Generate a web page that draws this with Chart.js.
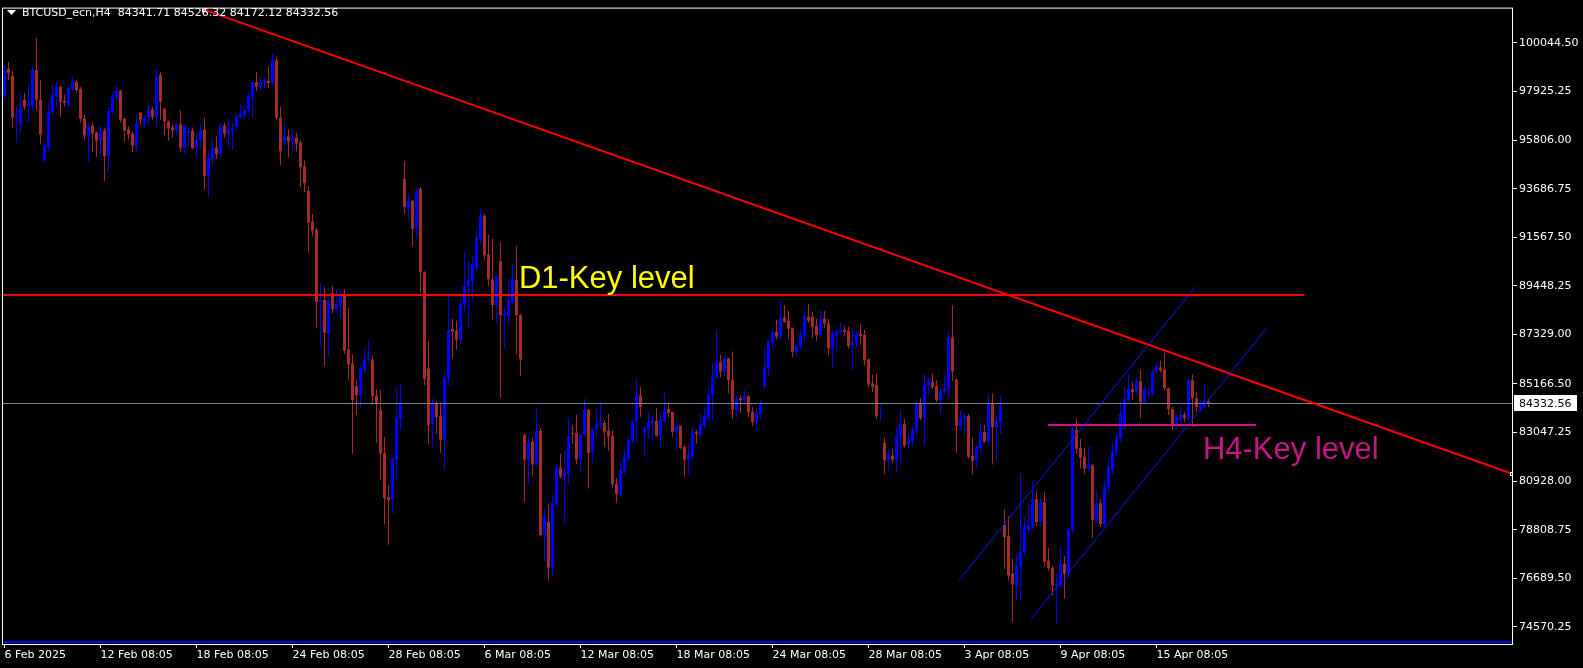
<!DOCTYPE html>
<html>
<head>
<meta charset="utf-8">
<script src="https://cdn.jsdelivr.net/npm/chart.js@4.4.1/dist/chart.umd.min.js"></script>
<style>
  html, body { margin: 0; padding: 0; background: #000; }
  #wrap { width: 1583px; height: 668px; }
</style>
</head>
<body>
<div id="wrap"><canvas id="chart" width="1583" height="668"></canvas></div>
<script>
const symbol = 'BTCUSD_ecn,H4';

// H4 candles, 6 Feb 2025 -> 17 Apr 2025
const opens = [
  97739,98907,98604,96788,96528,97566,97307,97264,98864,97566,94928,95490,97047,97696,98129,97523,97350,98042,98345,98042,
  96745,96009,96442,96139,95793,96226,95101,97047,97653,97956,96745,96269,96096,95577,97004,96528,96788,97134,96831,98648,
  97177,96615,96355,96226,96485,95490,96139,96226,95490,95793,96269,94236,94971,95490,95188,96442,96096,96226,96399,96788,
  96874,97134,97696,98345,98129,98302,98388,98302,99296,96788,95750,95966,95750,95923,95707,94669,93587,92247,91901,88743,
  88830,87359,89133,88441,88614,89046,86667,86062,85067,84678,85802,86235,86235,84678,84029,82169,80223,80137,81867,83640,
  94106,92852,93155,91944,93674,90041,85846,83424,84289,83770,82732,85413,87576,87489,87100,88614,89435,89652,90214,91511,
  92506,90819,89738,88614,90517,88138,88138,88743,89695,88181,82948,81867,82645,81650,83121,78580,79142,77152,79920,81521,
  81131,81261,83034,83034,81867,82948,84029,82169,83207,83380,83467,83121,82905,80829,80353,81391,81953,82688,83553,84678,
  83034,83207,83467,83553,82905,83553,84072,83943,83078,83337,82429,81867,81996,83078,82948,83380,83726,84678,85456,86105,
  85716,86278,85327,84029,84548,84462,84635,83943,83510,83856,85067,85846,87013,87446,87230,88051,87922,87619,86581,86797,
  87273,88095,88095,87705,87316,88008,87835,86711,87273,87446,87532,87489,86840,86970,87359,87316,86235,85196,85110,83770,
  82602,81823,82040,81867,82861,83424,82559,82688,83121,84289,83683,85110,85240,85067,84462,84851,84937,87186,85370,83337,
  83640,83770,82040,81823,82342,83078,82645,84289,83294,83510,79012,78536,76893,76374,77196,77844,78796,78969,80137,79142,
  80007,77455,77152,76374,76374,77325,76893,78796,83164,82386,81996,81477,81607,79228,79964,79055,80656,81434,82213,82818,
  83294,84462,84937,84851,85283,84375,84764,84764,85716,85889,85802,84981,84072,83337,83640,83813,83683,85327,84548,84116,
  84159,84341.71
];
const highs = [
  99080,99210,98821,97350,97869,97869,98215,98994,100248,98431,95707,97437,98215,98345,98215,97783,98129,98561,98431,98129,
  96918,96572,96572,96182,96399,96355,97264,97912,98215,97999,96788,96399,96182,96918,97047,96918,97350,97264,98907,98777,
  97220,96658,96485,96572,97091,96442,96355,96355,96009,96528,96788,95317,95836,95966,96528,96572,96745,96528,96961,97393,
  97350,97869,98345,98777,98561,98518,98994,99599,99426,97264,96572,96269,96226,96139,95836,94928,93804,92593,91987,89565,
  89392,89003,89435,89349,89262,89306,88484,86451,85370,85975,86711,87057,86408,84937,84894,82861,80742,81953,84981,85154,
  94885,93458,93198,93717,93760,90084,87057,84505,84418,84375,85673,89003,88008,87922,88873,90949,90517,90690,91944,92852,
  92593,91684,91511,89954,91338,88484,89738,90387,91165,88224,82991,82861,82818,84116,83251,79747,79964,80310,81650,82126,
  82256,83683,83380,83813,82948,84505,84072,83251,84072,84375,83597,83856,83164,81045,81694,82299,82775,83597,85370,85024,
  83294,83943,83770,84116,83943,84808,84332,83943,83510,83380,82515,82515,83294,83164,83856,84159,84981,86062,87532,86451,
  86408,86321,86581,84635,84678,84894,84678,84159,84072,84462,86711,87057,87532,87965,88830,88614,88354,87619,86970,87576,
  88354,88657,88311,88008,88397,88354,88008,87489,87532,87835,87662,87662,87619,87489,87792,87532,86278,85586,85629,84202,
  82818,82342,82342,83251,83986,83640,82948,83337,84375,84548,85586,85413,85629,85327,84937,85500,87446,88614,85370,84029,
  83856,83856,82818,82472,83467,83380,84721,84764,83770,84678,79704,79401,77542,77758,81261,79401,79920,80915,80483,80137,
  80439,78017,77239,76893,78017,77671,78882,83294,83640,82775,82386,82429,81694,80483,80137,80915,81953,82645,82991,84375,
  85024,85586,85240,85413,85802,85110,85024,85759,86105,86192,86538,85024,84159,83856,84159,83943,85370,85586,84808,84462,
  85110,84526.32
];
const lows = [
  97566,98431,96355,95707,96139,97134,96572,97134,97134,95620,94842,95317,96918,97220,96831,97264,97264,97956,97869,96572,
  95836,94842,95274,95058,95058,94020,94452,96918,97566,96572,95750,95836,95274,95274,96485,96355,96485,96701,96399,96701,
  96009,95793,95923,95966,95274,95188,95534,95404,95058,95534,93674,93328,94755,94971,95101,95923,95490,95361,96269,96745,
  96701,97004,96788,97956,97999,98085,98085,98215,96658,94712,95534,95058,95361,95317,93760,93544,90906,91598,87619,86840,
  85932,86408,88268,88268,88051,86494,85327,82126,83813,84116,85673,86105,84245,82602,81002,79055,78147,79531,81002,83164,
  92593,92376,91165,91511,89133,85110,82559,82429,82991,82169,81434,85110,86278,86667,86970,88354,87576,88830,90084,91295,
  90560,89435,87965,87835,84591,86754,87792,88614,86451,85500,80007,80785,81131,81564,78536,77412,76590,76806,79834,81045,
  79055,80785,82559,81650,81304,82861,80612,81737,82861,83207,82429,82256,80656,79964,80266,81218,81780,82602,82645,83726,
  81996,82775,82688,82861,82429,83467,83726,82861,82299,82342,81131,81218,81867,82559,82861,83251,83597,83597,85370,85456,
  85543,84764,83640,83726,83899,84245,83726,83337,83121,83640,84937,85543,86754,87100,87143,87835,87100,86321,86365,86667,
  87057,87835,87186,87057,87273,87619,86408,85889,86581,87359,87273,86711,85802,86797,86884,85975,85024,84808,83640,83553,
  81261,81391,81737,81304,81650,82386,82342,82472,82948,83597,82472,84721,84937,84375,83899,84764,84505,85283,82169,83121,
  82991,81910,81218,81521,82213,82602,82559,81650,81823,82948,77109,76590,74774,75725,75768,77671,78666,78839,78969,78969,
  77196,77023,75941,74730,76244,75812,76677,78666,82126,81477,81261,81348,78450,79099,78926,78926,80483,81261,81996,82645,
  83164,84375,84462,84721,83683,84289,84591,84678,85629,85673,84894,83813,83164,83207,83294,83510,83597,83294,83943,83943,
  84116,84172.12
];
const closes = [
  98821,98734,96788,96831,97177,97264,97393,98864,97566,96053,95534,97047,97783,98129,97480,97437,98085,98345,97999,96745,
  96009,96399,96096,95793,96226,95101,97091,97696,97956,96701,96226,96053,95577,96528,96701,96745,97134,96831,98561,97480,
  96615,96312,96226,96485,95490,96442,96226,95447,95836,96269,94236,95015,95490,95188,96442,96096,96269,96312,96831,96961,
  97134,97739,98345,98129,98345,98388,98302,99296,96788,95317,95966,95750,95923,95663,94625,93933,92203,91857,88743,88830,
  87403,88743,88441,88657,89046,86624,86019,84462,84678,85846,86235,86278,84635,84289,82126,80180,80093,81953,83683,84245,
  92895,93155,91944,93587,90041,85370,83380,84289,83726,82732,85456,87489,87446,87100,88657,89435,89695,90387,91555,92506,
  90776,89738,88614,89868,88181,88224,88830,89738,88181,86235,81867,82645,81650,83121,78580,79358,77152,79964,81521,81131,
  81304,82861,82991,81867,82948,84029,82169,83164,83424,83467,83078,82861,80785,80353,81391,81996,82732,83553,84678,84159,
  83251,83510,83553,82905,83597,84029,83899,83078,83337,82386,81867,82083,83078,82991,83424,83770,84678,85456,86105,85716,
  86278,85327,84029,84548,84462,84635,83943,83510,83899,84245,85889,87057,87446,87230,88051,87878,87576,86581,86840,87316,
  88095,87922,87662,87316,88008,87792,86711,87359,87446,87532,87446,86840,87013,87359,87273,86192,85154,85067,83770,83813,
  81823,82083,81867,82905,83424,82472,82732,83164,84289,83683,85154,85283,85024,84462,84851,84981,87186,85716,83337,83683,
  83770,81996,81823,82429,83078,82645,84289,83294,83553,84202,78493,76806,76417,77239,77844,78969,79012,80137,79142,80007,
  77412,77152,76374,76460,77325,76893,78796,83207,82342,81953,81477,81650,79228,79964,79055,80656,81564,82213,82818,83856,
  84505,84937,84808,85283,84375,84937,84808,85716,85932,85759,84981,84072,83337,83726,83813,83683,85327,84548,84159,84245,
  84418,84332.56
];

const timeLabels = ['6 Feb 2025', '12 Feb 08:05', '18 Feb 08:05', '24 Feb 08:05', '28 Feb 08:05', '6 Mar 08:05',
  '12 Mar 08:05', '18 Mar 08:05', '24 Mar 08:05', '28 Mar 08:05', '3 Apr 08:05', '9 Apr 08:05', '15 Apr 08:05'];
const barsPerLabel = 24;
const priceTicks = [100044.50, 97925.25, 95806.00, 93686.75, 91567.50, 89448.25, 87329.00,
  85166.50, 83047.25, 80928.00, 78808.75, 76689.50, 74570.25];
const priceMin = 73822;
const priceMax = 101545.25;
const barMin = -0.375;
const barMax = 376.875;

// chart objects, as [bar index, price]
const trendLine = [[49.9, 101502], [376.75, 81261]];
const d1Level = [[-1, 89046], [324.9, 89046]];
const d1Text = { text: 'D1-Key level', at: [128.6, 89349] };
const h4Level = [[260.9, 83380], [312.9, 83380]];
const h4Text = { text: 'H4-Key level', at: [299.6, 81910] };
const channelUpper = [[238.6, 76590], [297.6, 89392]];
const channelLower = [[256.6, 74903], [315.6, 87619]];

const bullColor = '#0000ff';
const bearColor = '#a52a2a';

Chart.defaults.font.family = "'DejaVu Sans', sans-serif";
Chart.defaults.font.size = 11;
Chart.defaults.color = '#ffffff';

const idx = closes.map((_, i) => i);
const candleColors = idx.map(i => closes[i] >= opens[i] ? bullColor : bearColor);
const lastPrice = closes[closes.length - 1];

const overlay = {
  id: 'overlay',
  beforeDraw(c) {
    const ctx = c.ctx;
    ctx.save();
    ctx.fillStyle = '#000';
    ctx.fillRect(0, 0, c.width, c.height);
    ctx.restore();
  },
  afterDatasetsDraw(c) {
    const { ctx, chartArea: a, scales: { x, y } } = c;
    const px = v => x.getPixelForValue(v);
    const py = v => y.getPixelForValue(v);
    const seg = (line, color, w) => {
      ctx.strokeStyle = color; ctx.lineWidth = w;
      ctx.beginPath();
      ctx.moveTo(px(line[0][0]), py(line[0][1]));
      ctx.lineTo(px(line[1][0]), py(line[1][1]));
      ctx.stroke();
    };
    ctx.save();
    ctx.beginPath();
    ctx.rect(a.left, a.top, a.right - a.left, a.bottom - a.top);
    ctx.clip();

    // bid line
    const yb = Math.round(py(lastPrice)) + 0.5;
    ctx.strokeStyle = '#778899'; ctx.lineWidth = 1;
    ctx.beginPath(); ctx.moveTo(a.left, yb); ctx.lineTo(a.right, yb); ctx.stroke();

    seg(channelUpper, '#1010ff', 1);
    seg(channelLower, '#1010ff', 1);
    seg(d1Level, '#ff0000', 2);
    seg(h4Level, '#c71585', 2);
    seg(trendLine, '#ff0000', 2);

    ctx.font = '31px "Liberation Sans", Arial, sans-serif';
    ctx.textBaseline = 'alphabetic';
    ctx.textAlign = 'left';
    ctx.fillStyle = '#ffff00';
    ctx.fillText(d1Text.text, px(d1Text.at[0]), py(d1Text.at[1]));
    ctx.fillStyle = '#c71585';
    ctx.fillText(h4Text.text, px(h4Text.at[0]), py(h4Text.at[1]));

    // trend line anchors
    ctx.strokeStyle = '#ffffff'; ctx.lineWidth = 1;
    trendLine.forEach(p => {
      ctx.strokeRect(Math.round(px(p[0])) - 1.5, Math.round(py(p[1])) - 1.5, 3, 3);
    });
    ctx.restore();
  },
  afterDraw(c) {
    const { ctx, chartArea: a, scales: { y } } = c;
    ctx.save();
    // frame
    ctx.fillStyle = '#0000ff';
    ctx.fillRect(a.left, a.bottom - 3, a.right - a.left, 2);
    ctx.strokeStyle = '#ffffff'; ctx.lineWidth = 1;
    ctx.strokeRect(a.left - 0.5, a.top - 0.5, a.right - a.left + 1, a.bottom - a.top + 1);

    // last price tag
    const yb = Math.round(y.getPixelForValue(lastPrice));
    ctx.fillStyle = '#ffffff';
    ctx.fillRect(a.right + 2, yb - 8, 63, 16);
    ctx.fillStyle = '#000000';
    ctx.font = '11px "DejaVu Sans", sans-serif';
    ctx.textBaseline = 'middle';
    ctx.fillText(lastPrice.toFixed(2), a.right + 7, yb + 1);

    // title
    const n = closes.length - 1;
    ctx.fillStyle = '#ffffff';
    ctx.beginPath();
    ctx.moveTo(7, 10); ctx.lineTo(16, 10); ctx.lineTo(11.5, 15); ctx.closePath(); ctx.fill();
    ctx.fillText(`${symbol}  ${opens[n].toFixed(2)} ${highs[n].toFixed(2)} ${lows[n].toFixed(2)} ${closes[n].toFixed(2)}`, 22, 13);
    ctx.restore();
  }
};

new Chart(document.getElementById('chart').getContext('2d'), {
  type: 'bar',
  data: {
    datasets: [
      {
        label: 'wick',
        data: idx.map(i => ({ x: i, y: [lows[i], highs[i]] })),
        backgroundColor: candleColors,
        barThickness: 1, grouped: false, inflateAmount: 0, borderWidth: 0, order: 2
      },
      {
        label: 'body',
        data: idx.map(i => ({ x: i, y: [opens[i], closes[i]] })),
        backgroundColor: candleColors,
        barThickness: 3, minBarLength: 1, grouped: false, inflateAmount: 0, borderWidth: 0, order: 1
      }
    ]
  },
  options: {
    responsive: false, animation: false, devicePixelRatio: 1,
    layout: { padding: { left: 3, top: 3, right: 0, bottom: 0 } },
    plugins: { legend: { display: false }, tooltip: { enabled: false } },
    scales: {
      x: {
        type: 'linear', min: barMin, max: barMax, offset: false,
        afterBuildTicks: s => { s.ticks = timeLabels.map((_, k) => ({ value: k * barsPerLabel })); },
        afterFit: s => { s.height = 24; },
        ticks: { autoSkip: false, maxRotation: 0, minRotation: 0, align: 'start', padding: 1,
                 callback: (v, k) => timeLabels[k] },
        grid: { drawOnChartArea: false, color: '#ffffff', tickLength: 4, offset: false },
        border: { display: false }
      },
      y: {
        position: 'right', min: priceMin, max: priceMax,
        afterBuildTicks: s => { s.ticks = priceTicks.map(v => ({ value: v })); },
        afterFit: s => { s.width = 71; },
        ticks: { autoSkip: false, padding: 2, callback: v => Number(v).toFixed(2) },
        grid: { drawOnChartArea: false, color: '#ffffff', tickLength: 5 },
        border: { display: false }
      }
    }
  },
  plugins: [overlay]
});
</script>
</body>
</html>
